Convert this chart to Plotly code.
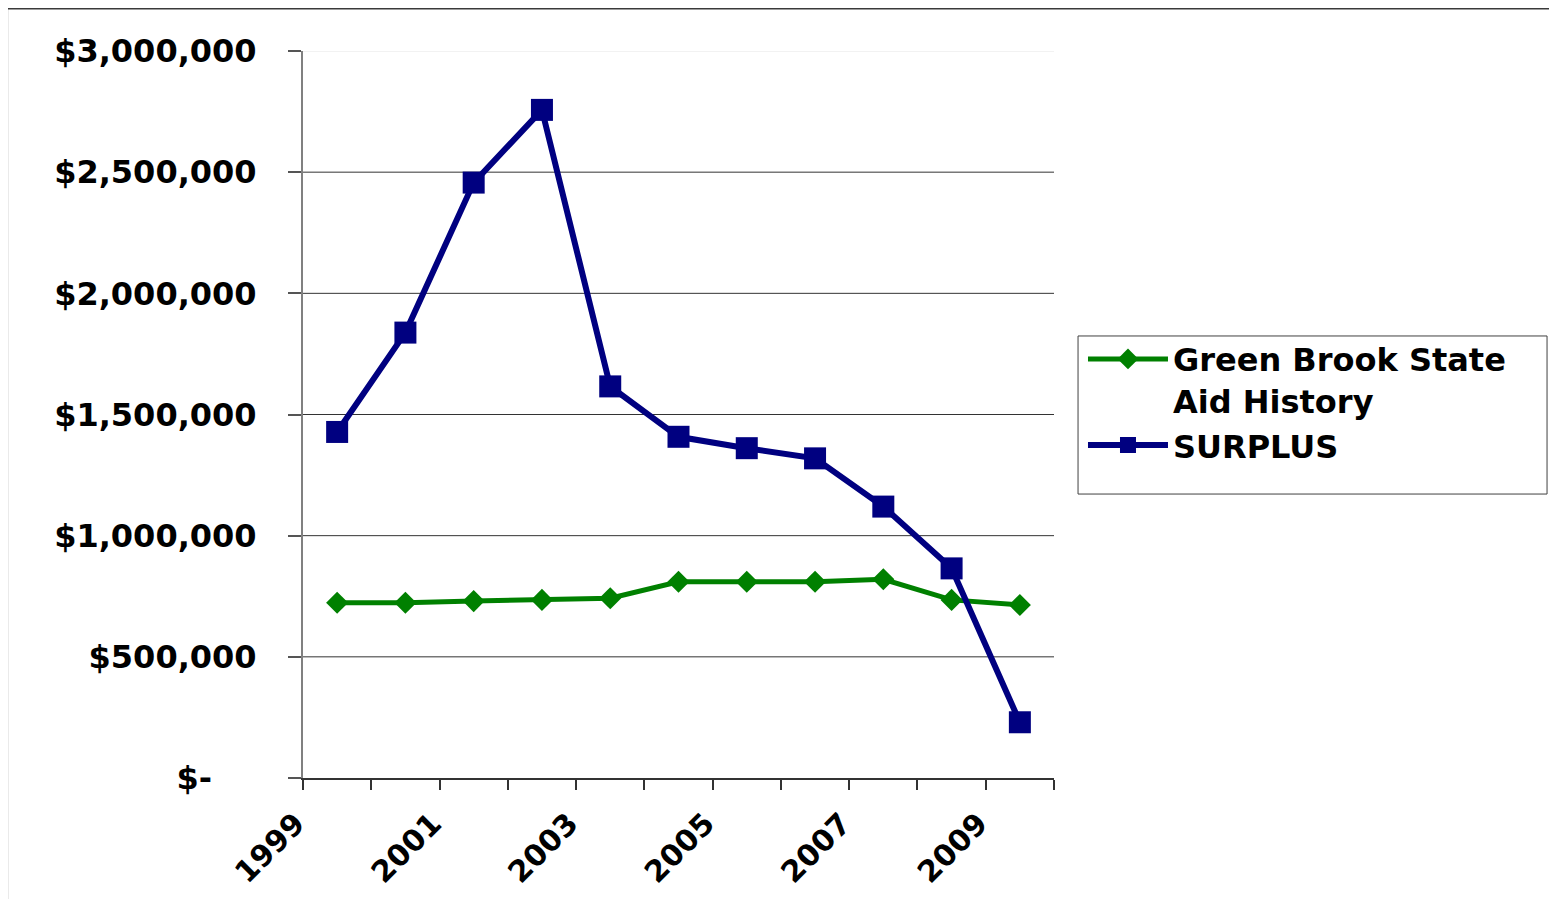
import plotly.graph_objects as go

years = [1999, 2000, 2001, 2002, 2003, 2004, 2005, 2006, 2007, 2008, 2009]
state_aid = [723000, 723000, 730000, 735000, 742000, 810000, 810000, 810000, 820000, 735000, 714000]
surplus = [1428000, 1838000, 2457000, 2757000, 1616000, 1408000, 1361000, 1319000, 1120000, 865000, 230000]

series_names = ["Green Brook State<br>Aid History", "SURPLUS"]
y_tick_vals = [0, 500000, 1000000, 1500000, 2000000, 2500000, 3000000]
y_tick_text = ["$-\u00a0\u00a0\u00a0\u00a0", "$500,000", "$1,000,000", "$1,500,000",
               "$2,000,000", "$2,500,000", "$3,000,000"]
x_label_years = ["1999", "", "2001", "", "2003", "", "2005", "", "2007", "", "2009", ""]

GREEN = "#008000"
NAVY = "#000080"
FONT = "DejaVu Sans"

fig = go.Figure()
fig.add_trace(go.Scatter(
    x=years, y=state_aid, name=series_names[0], mode="lines+markers",
    line=dict(color=GREEN, width=5),
    marker=dict(symbol="diamond", size=17, color=GREEN),
))
fig.add_trace(go.Scatter(
    x=years, y=surplus, name=series_names[1], mode="lines+markers",
    line=dict(color=NAVY, width=6),
    marker=dict(symbol="square", size=22, color=NAVY),
))

x_bounds = [y - 0.5 for y in years] + [years[-1] + 0.5]

shapes = []
for v in y_tick_vals[1:]:
    shapes.append(dict(type="line", xref="paper", yref="y", x0=0, x1=1, y0=v, y1=v,
                       line=dict(color="#e6e6e6" if v == y_tick_vals[-1] else "#333333", width=1),
                       layer="below"))
shapes.append(dict(type="rect", xref="paper", yref="paper", x0=-0.394, x1=1.75, y0=-0.25, y1=1.0585,
                   line=dict(color="#3a3a3a", width=2), fillcolor="rgba(0,0,0,0)", layer="below"))
shapes.append(dict(type="rect", xref="paper", yref="paper", x0=1.032, x1=1.6565, y0=0.3906, y1=0.608,
                   line=dict(color="#404040", width=1), fillcolor="rgba(0,0,0,0)"))

fig.update_layout(
    width=1557, height=899,
    margin=dict(l=295, r=511, t=43, b=129),
    plot_bgcolor="white", paper_bgcolor="white",
    font=dict(family=FONT, color="black", weight="bold"),
    showlegend=True,
    legend=dict(x=1.0386, y=0.614, xanchor="left", yanchor="top",
                font=dict(family=FONT, size=32, color="black", weight="bold"),
                bgcolor="rgba(0,0,0,0)", borderwidth=0, valign="top",
                itemwidth=80,
                traceorder="normal", tracegroupgap=0),
    shapes=shapes,
    xaxis=dict(range=[x_bounds[0], x_bounds[-1]], tickmode="array", tickvals=x_bounds,
               ticktext=x_label_years, tickangle=-45, showgrid=False, zeroline=False,
               showline=True, linecolor="#333333", linewidth=2,
               ticks="outside", ticklen=10, tickwidth=1.5, tickcolor="#333333",
               ticklabelstandoff=4, ticklabelshift=-7,
               tickfont=dict(family=FONT, size=30, color="black", weight="bold")),
    yaxis=dict(range=[0, 3000000], tickmode="array", tickvals=y_tick_vals, ticktext=y_tick_text,
               showgrid=False, zeroline=False, showline=True, linecolor="#808080", linewidth=2,
               ticks="outside", ticklen=13, tickwidth=1.5, tickcolor="#555555",
               ticklabelstandoff=25,
               tickfont=dict(family=FONT, size=32, color="black", weight="bold")),
)

fig.write_html("out.html")
